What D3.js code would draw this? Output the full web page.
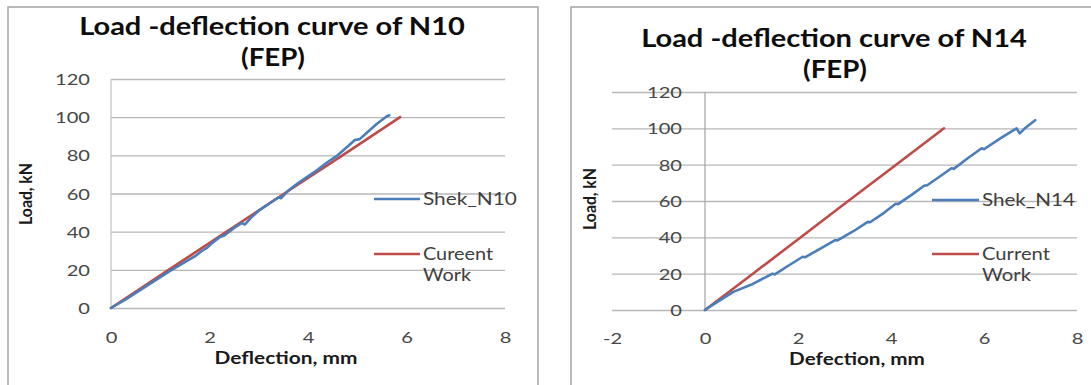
<!DOCTYPE html>
<html>
<head>
<meta charset="utf-8">
<script src="https://cdn.jsdelivr.net/npm/d3@7"></script>
<style>
  body { margin: 0; background: #fff; }
  svg { display: block; }
</style>
</head>
<body>
<svg id="chart" width="1091" height="385"></svg>
<script>
// ---- N10 specimen: load (kN) vs deflection (mm) ----
const n10ShekDeflection = [0, 0.3, 0.6, 0.9, 1.2, 1.5, 1.7, 1.85, 1.95, 2.05, 2.2, 2.3, 2.5, 2.65, 2.72, 2.85, 3.0, 3.2, 3.4, 3.45, 3.6, 3.8, 4.0, 4.2, 4.4, 4.6, 4.8, 4.95, 5.05, 5.2, 5.4, 5.6, 5.65];
const n10ShekLoad       = [0, 4.5, 9.5, 14.5, 19.5, 24, 27, 30, 31.5, 34, 37, 38, 42, 44.5, 43.8, 47.5, 51, 54.5, 58, 57.5, 61.5, 65.5, 69, 72.5, 76.5, 80, 84.5, 88, 88.5, 92, 96.5, 100.5, 101];
const n10CurrentDeflection = [0, 1.17, 2.35, 3.52, 4.7, 5.87];
const n10CurrentLoad       = [0, 20, 40, 60, 80, 100];

// ---- N14 specimen ----
const n14ShekDeflection = [0, 0.3, 0.61, 1.0, 1.3, 1.45, 1.5, 1.8, 2.1, 2.15, 2.5, 2.8, 2.85, 3.2, 3.5, 3.55, 3.85, 4.1, 4.15, 4.45, 4.72, 4.77, 5.05, 5.3, 5.35, 5.65, 5.95, 6.0, 6.35, 6.7, 6.77, 6.9, 7.1];
const n14ShekLoad       = [0, 5, 10, 14, 18, 20, 19.6, 24.5, 29.3, 29, 34, 38.5, 38.3, 43.5, 48.5, 48.3, 53.5, 58.5, 58.3, 63.5, 68.5, 68.5, 73.5, 78, 77.7, 83.5, 89, 88.5, 94.5, 100, 97.2, 100.5, 104.5];
const n14CurrentDeflection = [0, 1.03, 2.06, 3.08, 4.11, 5.14];
const n14CurrentLoad       = [0, 20, 40, 60, 80, 100];

// ---- axes, titles and legend text ----
const loadTicks = [0, 20, 40, 60, 80, 100, 120];
const n10DeflectionTicks = [0, 2, 4, 6, 8];
const n14DeflectionTicks = [-2, 0, 2, 4, 6, 8];
const n10Title = ["Load -deflection curve of N10", "(FEP)"];
const n14Title = ["Load -deflection curve of N14", "(FEP)"];
const n10XLabel = "Deflection, mm";
const n14XLabel = "Defection, mm";
const yLabel = "Load, kN";
const n10Legend = [["Shek_N10"], ["Cureent", "Work"]];
const n14Legend = [["Shek_N14"], ["Current", "Work"]];

const BLUE = "#4a7ebb";
const RED = "#be4b48";
const FONT = 'Lato, "Open Sans", sans-serif';
const svg = d3.select("#chart");

// Text helper: places a label and optionally stretches it to a given run length.
function addText(parent, o) {
  const t = parent.append("text")
    .attr("font-family", FONT)
    .attr("font-size", o.size)
    .attr("font-weight", o.bold ? 700 : 400)
    .attr("fill", o.fill || "#111")
    .attr("text-anchor", o.anchor || "middle")
    .attr("dy", o.dy || 0)
    .text(o.text);
  const len = t.node().getComputedTextLength();
  const sx = o.width ? o.width / len : (o.sx || 1);
  t.attr("transform", `translate(${o.x},${o.y}) rotate(${o.rotate || 0}) scale(${sx},1)`);
  return t;
}

// Horizontal stretch shared by all tick labels
const TICK_SIZE = 15.5;
const probe = svg.append("text").attr("font-family", FONT).attr("font-size", TICK_SIZE).text("120");
const TICK_SX = 35 / probe.node().getComputedTextLength();
probe.remove();

function drawPanel(p) {
  const g = svg.append("g");

  g.append("rect")
    .attr("x", p.frame[0]).attr("y", p.frame[1])
    .attr("width", p.frame[2]).attr("height", p.frame[3])
    .attr("fill", "#fff").attr("stroke", "#a9a9a9").attr("stroke-width", 1.6);

  const x = d3.scaleLinear().domain(p.xDomain).range(p.xRange);
  const y = d3.scaleLinear().domain([0, 120]).range(p.yRange);

  // horizontal gridlines
  const grid = g.append("g")
    .attr("transform", `translate(${p.xRange[0]},0)`)
    .call(d3.axisLeft(y).tickValues(loadTicks).tickSize(-(p.xRange[1] - p.xRange[0])).tickFormat(""));
  grid.select(".domain").remove();
  grid.selectAll("line").attr("stroke", "#b7b7b7").attr("stroke-width", 1.3);

  // vertical value axis at deflection = 0
  g.append("line")
    .attr("x1", x(0)).attr("x2", x(0))
    .attr("y1", y(120)).attr("y2", y(0))
    .attr("stroke", p.axisColor).attr("stroke-width", 1.3);

  // load tick labels
  const yl = g.append("g")
    .attr("transform", `translate(${p.yLabelRight},0)`)
    .call(d3.axisLeft(y).tickValues(loadTicks).tickSize(0).tickPadding(0));
  yl.select(".domain").remove();
  yl.selectAll("text")
    .attr("font-family", FONT).attr("font-size", TICK_SIZE).attr("fill", "#474747")
    .attr("x", 0).attr("dy", "0.36em")
    .attr("transform", `scale(${TICK_SX},1)`);

  // deflection tick labels (plain hyphen for negatives)
  const xl = g.append("g")
    .attr("transform", `translate(0,${p.xLabelY})`)
    .call(d3.axisBottom(x).tickValues(p.xTicks).tickSize(0).tickPadding(0).tickFormat(d => String(d)));
  xl.select(".domain").remove();
  xl.selectAll("text")
    .attr("font-family", FONT).attr("font-size", TICK_SIZE).attr("fill", "#474747")
    .attr("y", 0).attr("dy", "0.36em")
    .attr("transform", `scale(${TICK_SX},1)`);

  // curves
  const line = d3.line().x(d => x(d[0])).y(d => y(d[1]));
  g.append("path").datum(d3.zip(p.redX, p.redY))
    .attr("d", line).attr("fill", "none").attr("stroke", RED)
    .attr("stroke-width", 2.6).attr("stroke-linejoin", "round").attr("stroke-linecap", "round");
  g.append("path").datum(d3.zip(p.blueX, p.blueY))
    .attr("d", line).attr("fill", "none").attr("stroke", BLUE)
    .attr("stroke-width", 2.6).attr("stroke-linejoin", "round").attr("stroke-linecap", "round");

  // titles
  addText(g, { text: p.title[0], x: p.titleX, y: p.titleY[0], size: 24, bold: true, width: 386, fill: "#0d0d0d" });
  addText(g, { text: p.title[1], x: p.titleX + 1, y: p.titleY[1], size: 24, bold: true, width: 64, fill: "#0d0d0d" });

  // axis titles
  addText(g, { text: p.xLabel, x: p.xTitle[0], y: p.xTitle[1], size: 17, bold: true, width: p.xTitleWidth, dy: "0.36em", fill: "#1a1a1a" });
  addText(g, { text: yLabel, x: p.yTitle[0], y: p.yTitle[1], size: 17, bold: true, width: 62, rotate: -90, dy: "0.36em", fill: "#1a1a1a" });

  // legend
  const colors = [BLUE, RED];
  p.legend.forEach((lines, i) => {
    const ly = p.legendY[i];
    g.append("line")
      .attr("x1", p.legendX[0]).attr("x2", p.legendX[1])
      .attr("y1", ly).attr("y2", ly)
      .attr("stroke", colors[i]).attr("stroke-width", 2.6);
    lines.forEach((s, j) => {
      addText(g, { text: s, x: p.legendX[1] + 3, y: ly + j * 21, size: 16.5, anchor: "start",
                   width: p.legendWidths[i][j], dy: "0.36em", fill: "#404040" });
    });
  });
}

drawPanel({
  frame: [8, 7, 530, 400],
  xDomain: [0, 8], xRange: [111, 505], yRange: [308, 79],
  xTicks: n10DeflectionTicks, axisColor: "#c6c6c6",
  yLabelRight: 90, xLabelY: 337,
  blueX: n10ShekDeflection, blueY: n10ShekLoad,
  redX: n10CurrentDeflection, redY: n10CurrentLoad,
  title: n10Title, titleX: 272, titleY: [35, 66],
  xLabel: n10XLabel, xTitle: [286, 358], xTitleWidth: 143,
  yTitle: [26, 194],
  legend: n10Legend, legendX: [374, 420], legendY: [199, 254],
  legendWidths: [[94], [70, 48]]
});

drawPanel({
  frame: [571, 7, 540, 400],
  xDomain: [-2, 8], xRange: [612, 1077], yRange: [310, 92],
  xTicks: n14DeflectionTicks, axisColor: "#a9a9a9",
  yLabelRight: 682, xLabelY: 338,
  blueX: n14ShekDeflection, blueY: n14ShekLoad,
  redX: n14CurrentDeflection, redY: n14CurrentLoad,
  title: n14Title, titleX: 834, titleY: [47, 78],
  xLabel: n14XLabel, xTitle: [857, 359], xTitleWidth: 136,
  yTitle: [590, 199],
  legend: n14Legend, legendX: [932, 979], legendY: [200, 254],
  legendWidths: [[93], [68, 49]]
});
</script>
</body>
</html>
